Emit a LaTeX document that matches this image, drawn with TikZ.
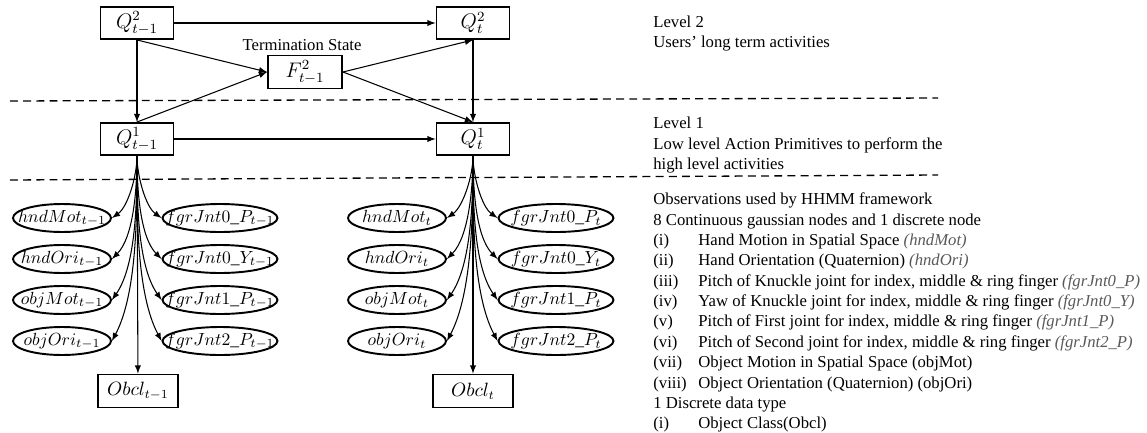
\documentclass[tikz,border=0pt]{standalone}
\usepackage[no-math]{fontspec}
\setmainfont{Liberation Serif}
\usepackage{tikz}
\usepackage{xcolor}
\usetikzlibrary{positioning,shapes.geometric}

\newcommand{\cue}[1]{\makebox[0pt]{$#1$}}
\newcommand{\obsitem}[2]{\makebox[0.9cm][l]{#1}#2}
\newcommand{\obsvar}[1]{\textcolor{black!65}{\textit{#1}}}

\begin{document}
\begin{tikzpicture}[x=0.02cm, y=-0.02cm, >=latex,
					statebox/.style={rectangle, draw=black, line width=1.1pt,
						minimum width=1.46cm, minimum height=0.64cm, inner sep=0pt, font=\large},
					motion/.style={ellipse, draw=black, line width=1.1pt, minimum width=1.96cm,
						minimum height=0.56cm, inner sep=0pt, font=\fontsize{10}{12}\selectfont},
					finger/.style={motion, minimum width=2.3cm},
					link/.style={->, semithick},
					emit/.style={link, out=-90, looseness=0.75},
					divider/.style={draw=black, line width=0.75pt, dash pattern=on 4.5pt off 3pt},
					notes/.style={anchor=north west, inner sep=0pt, align=left,
						font=\fontsize{9.5}{11.6}\selectfont}
					]
					\useasboundingbox (0,0) rectangle (1147,433);
					% level 2
					\node[statebox] (Q2p) at (137,23) {$Q^2_{t-1}$};
					\node[statebox] (Q2t) at (473,23) {$Q^2_t$};
					\node[statebox, minimum width=1.48cm, minimum height=0.66cm] (F2p) at (305,72) {$F^2_{t-1}$};
					\node[font=\fontsize{9.5}{11}\selectfont] (term) at (302,45) {Termination State};
					% level 1
					\node[statebox] (Q1p) at (137,139) {$Q^1_{t-1}$};
					\node[statebox] (Q1t) at (473,139) {$Q^1_t$};
					\draw[divider] (10,101) -- (938,98);
					\draw[divider] (10,180) -- (938,175);
					% observations at t-1
					\node[motion] (hMp) at (62,218) {\cue{hndMot_{t-1}}};
					\node[motion] (hOp) at (62,259) {\cue{hndOri_{t-1}}};
					\node[motion] (oMp) at (62,300) {\cue{objMot_{t-1}}};
					\node[motion] (oOp) at (62,341) {\cue{objOri_{t-1}}};
					\node[finger] (j0Pp) at (220,218) {\cue{fgrJnt0\_P_{t-1}}};
					\node[finger] (j0Yp) at (220,259) {\cue{fgrJnt0\_Y_{t-1}}};
					\node[finger] (j1Pp) at (220,300) {\cue{fgrJnt1\_P_{t-1}}};
					\node[finger] (j2Pp) at (220,341) {\cue{fgrJnt2\_P_{t-1}}};
					\node[statebox, minimum width=1.6cm, minimum height=0.66cm,
						font=\fontsize{10.5}{12}\selectfont] (Obp) at (138,391) {$Obcl_{t-1}$};
					% observations at t
					\node[motion] (hMt) at (397,218) {\cue{hndMot_t}};
					\node[motion] (hOt) at (397,259) {\cue{hndOri_t}};
					\node[motion] (oMt) at (397,300) {\cue{objMot_t}};
					\node[motion] (oOt) at (397,341) {\cue{objOri_t}};
					\node[finger] (j0Pt) at (556,218) {\cue{fgrJnt0\_P_t}};
					\node[finger] (j0Yt) at (556,259) {\cue{fgrJnt0\_Y_t}};
					\node[finger] (j1Pt) at (556,300) {\cue{fgrJnt1\_P_t}};
					\node[finger] (j2Pt) at (556,341) {\cue{fgrJnt2\_P_t}};
					\node[statebox, minimum width=1.6cm, minimum height=0.66cm,
						font=\fontsize{10.5}{12}\selectfont] (Obt) at (473,391) {$Obcl_t$};
					% notes
					\node[notes] (lvl2) at (653,13) {\strut Level 2\\Users' long term activities};
					\node[notes] (lvl1) at (653,114) {\strut Level 1\\Low level Action Primitives to perform the\\high level activities};
					\node[notes] (obs) at (653,190) {\strut Observations used by HHMM framework\\
						8 Continuous gaussian nodes and 1 discrete node\\
						\obsitem{(i)}{Hand Motion in Spatial Space \obsvar{(hndMot)}}\\
						\obsitem{(ii)}{Hand Orientation (Quaternion) \obsvar{(hndOri)}}\\
						\obsitem{(iii)}{Pitch of Knuckle joint for index, middle \& ring finger \obsvar{(fgrJnt0\_P)}}\\
						\obsitem{(iv)}{Yaw of Knuckle joint for index, middle \& ring finger \obsvar{(fgrJnt0\_Y)}}\\
						\obsitem{(v)}{Pitch of First joint for index, middle \& ring finger \obsvar{(fgrJnt1\_P)}}\\
						\obsitem{(vi)}{Pitch of Second joint for index, middle \& ring finger \obsvar{(fgrJnt2\_P)}}\\
						\obsitem{(vii)}{Object Motion in Spatial Space (objMot)}\\
						\obsitem{(viii)}{Object Orientation (Quaternion) (objOri)}\\
						1 Discrete data type\\
						\obsitem{(i)}{Object Class(Obcl)}};
					% hierarchy links
					\draw[link] (Q2p) -- (Q2t);
					\draw[link] (Q2p) -- (Q1p);
					\draw[link] (Q2t) -- (Q1t);
					\draw[link] (Q1p) -- (Q1t);
					\draw[link] (Q2p.south) -- (F2p.west);
					\draw[link] (Q1p.north) -- (F2p.west);
					\draw[link] (F2p.east) -- (Q2t.south);
					\draw[link] (F2p.east) -- (Q1t.north);
					% emissions
					\draw[emit] (Q1p.south) to[in=35] (hMp.east);
					\draw[emit] (Q1p.south) to[in=45] (hOp.east);
					\draw[emit] (Q1p.south) to[in=55] (oMp.east);
					\draw[emit] (Q1p.south) to[in=62] (oOp.east);
					\draw[emit] (Q1p.south) to[in=145] (j0Pp.west);
					\draw[emit] (Q1p.south) to[in=135] (j0Yp.west);
					\draw[emit] (Q1p.south) to[in=125] (j1Pp.west);
					\draw[emit] (Q1p.south) to[in=118] (j2Pp.west);
					\draw[link] (Q1p) -- (Obp);
					\draw[emit] (Q1t.south) to[in=35] (hMt.east);
					\draw[emit] (Q1t.south) to[in=45] (hOt.east);
					\draw[emit] (Q1t.south) to[in=55] (oMt.east);
					\draw[emit] (Q1t.south) to[in=62] (oOt.east);
					\draw[emit] (Q1t.south) to[in=145] (j0Pt.west);
					\draw[emit] (Q1t.south) to[in=135] (j0Yt.west);
					\draw[emit] (Q1t.south) to[in=125] (j1Pt.west);
					\draw[emit] (Q1t.south) to[in=118] (j2Pt.west);
					\draw[link] (Q1t) -- (Obt);
				\end{tikzpicture}
\end{document}
